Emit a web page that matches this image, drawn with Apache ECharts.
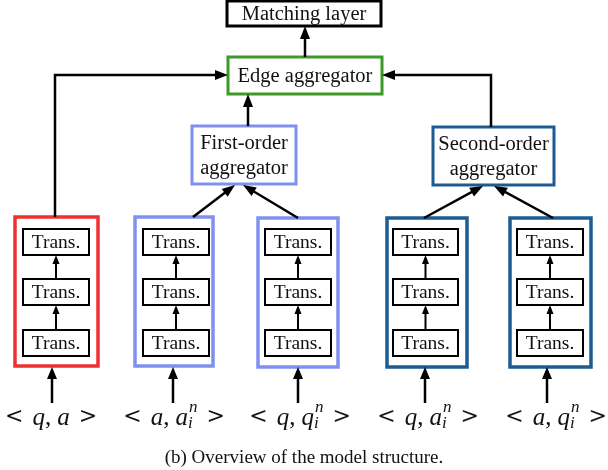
<!DOCTYPE html>
<html><head><meta charset="utf-8">
<script src="https://cdn.jsdelivr.net/npm/echarts@6/dist/echarts.min.js"></script>
<style>html,body{margin:0;padding:0;background:#fff}#c{width:608px;height:470px}</style>
</head><body><div id="c"></div>
<script>
// ---------- data ----------
const nodeNames = ['Matching layer', 'Edge aggregator', 'First-order\naggregator', 'Second-order\naggregator'];
const nodeBoxes = [[227, 1, 381, 26], [228, 57, 382, 94], [192, 126, 296, 184], [433, 127, 554, 185]];
const nodeKinds = ['black', 'green', 'light', 'dark'];

const colBoxes = [[15, 217, 98, 366], [135, 217, 213, 366], [258, 218, 338, 367], [387, 218, 467, 367], [510, 218, 591, 367]];
const colKinds = ['red', 'light', 'light', 'dark', 'dark'];
const transX = [[23, 89], [143, 209], [265, 331], [393, 458], [517, 583]];
const transRows = [[229, 255], [279, 305], [330, 356]];
const transName = 'Trans.';

const edgeArrows = [
  [[305, 57], [305, 26]],
  [[248, 126], [248, 94]],
  [[55, 217], [55, 75], [228, 75]],
  [[491, 127], [491, 75], [382, 75]],
  [[193, 217], [235, 185]],
  [[298, 218], [243, 185]],
  [[424, 218], [483, 186]],
  [[553, 218], [494, 186]]
];
const inputX = [52, 173, 298, 425, 547];
const inputY = [403, 367];

const labelX = [51, 174, 300, 428, 556];
const labelY = 418;
const labelFirst = ['q', 'a', 'q', 'q', 'a'];
const labelSecond = ['a', 'a', 'q', 'a', 'q'];
const labelSup = ['', 'n', 'n', 'n', 'n'];
const labelSub = ['', 'i', 'i', 'i', 'i'];

const caption = '(b) Overview of the model structure.';

// ---------- styles ----------
const colors = { black: '#000000', green: '#3a9a2a', light: '#8090ee', dark: '#1d5b93', red: '#ee3030' };
const serif = '"Liberation Serif", "Times New Roman", serif';

// derived: trans boxes and inner arrows
const transBoxes = [];
const innerArrows = [];
transX.forEach(function (tx) {
  transRows.forEach(function (r) { transBoxes.push([tx[0], r[0], tx[1], r[1]]); });
  const cx = (tx[0] + tx[1]) / 2;
  for (let k = 1; k < transRows.length; k++) {
    innerArrows.push([[cx, transRows[k][0]], [cx, transRows[k - 1][1]]]);
  }
});
const inputArrows = inputX.map(function (x) { return [[x, inputY[0]], [x, inputY[1]]]; });

function boxRender(texts, kinds, lw, fontSize, lineH) {
  return function (params, api) {
    const p0 = api.coord([api.value(0), api.value(1)]);
    const p1 = api.coord([api.value(2), api.value(3)]);
    const i = params.dataIndex;
    const col = colors[typeof kinds === 'string' ? kinds : kinds[i]];
    const children = [{
      type: 'rect',
      shape: { x: p0[0], y: p0[1], width: p1[0] - p0[0], height: p1[1] - p0[1] },
      style: { fill: '#fff', stroke: col, lineWidth: lw }
    }];
    const t = !texts ? '' : (typeof texts === 'string' ? texts : texts[i]);
    if (t) {
      children.push({
        type: 'text',
        style: {
          text: t, x: (p0[0] + p1[0]) / 2, y: (p0[1] + p1[1]) / 2 + 1,
          align: 'center', verticalAlign: 'middle',
          font: fontSize + 'px ' + serif, lineHeight: lineH, fill: '#111'
        }
      });
    }
    return { type: 'group', children: children };
  };
}

function arrowRender(list, L, Wd, lw) {
  return function (params, api) {
    const pts = list[params.dataIndex].map(function (p) { return api.coord(p); });
    const n = pts.length, tip = pts[n - 1], prev = pts[n - 2];
    const dx = tip[0] - prev[0], dy = tip[1] - prev[1];
    const len = Math.hypot(dx, dy), ux = dx / len, uy = dy / len;
    const base = [tip[0] - ux * L, tip[1] - uy * L];
    const line = pts.slice(0, n - 1).concat([[tip[0] - ux * L * 0.6, tip[1] - uy * L * 0.6]]);
    return {
      type: 'group',
      children: [
        { type: 'polyline', shape: { points: line }, style: { stroke: '#000', lineWidth: lw, fill: null } },
        { type: 'polygon', shape: { points: [tip, [base[0] - uy * Wd / 2, base[1] + ux * Wd / 2], [base[0] + uy * Wd / 2, base[1] - ux * Wd / 2]] }, style: { fill: '#000' } }
      ]
    };
  };
}

const mctx = document.createElement('canvas').getContext('2d');
function tw(t, font) { mctx.font = font; return mctx.measureText(t).width; }
const relFont = '22px "DejaVu Serif", serif';
const punctFont = '25px ' + serif;
const varFont = 'italic 25px ' + serif;
const idxFont = 'italic 17px ' + serif;

function labelRender(params, api) {
  const i = params.dataIndex;
  const c = api.coord([api.value(0), api.value(1)]);
  const pieces = [
    { t: '<', f: relFont }, { gap: 9 },
    { t: labelFirst[i], f: varFont }, { t: ',', f: punctFont }, { gap: 6 },
    { t: labelSecond[i], f: varFont }
  ];
  if (labelSup[i] || labelSub[i]) pieces.push({ sup: labelSup[i], sub: labelSub[i], f: idxFont });
  pieces.push({ gap: 9 }, { t: '>', f: relFont });
  let total = 0;
  pieces.forEach(function (p) {
    if (p.gap) p.w = p.gap;
    else if (p.t !== undefined) p.w = tw(p.t, p.f);
    else p.w = Math.max(tw(p.sup, p.f), tw(p.sub, p.f)) + 1;
    total += p.w;
  });
  let x = c[0] - total / 2;
  const children = [];
  pieces.forEach(function (p) {
    if (p.t !== undefined) {
      const dy = p.f === relFont ? -1 : 0;
      children.push({ type: 'text', style: { text: p.t, x: x, y: c[1] + dy, font: p.f, align: 'left', verticalAlign: 'middle', fill: '#111' } });
    } else if (p.sup !== undefined) {
      children.push({ type: 'text', style: { text: p.sup, x: x + 1, y: c[1] - 10, font: p.f, align: 'left', verticalAlign: 'middle', fill: '#111' } });
      children.push({ type: 'text', style: { text: p.sub, x: x, y: c[1] + 6, font: p.f, align: 'left', verticalAlign: 'middle', fill: '#111' } });
    }
    x += p.w;
  });
  return { type: 'group', children: children };
}

const chart = echarts.init(document.getElementById('c'), null, { renderer: 'canvas' });
chart.setOption({
  animation: false,
  backgroundColor: '#fff',
  title: {
    text: caption, left: 'center', top: 444,
    textStyle: { fontFamily: serif, fontSize: 19, fontWeight: 'normal', color: '#111' }
  },
  grid: { left: 0, right: 0, top: 0, bottom: 0 },
  xAxis: { type: 'value', min: 0, max: 608, show: false },
  yAxis: { type: 'value', min: 0, max: 470, inverse: true, show: false },
  series: [
    { type: 'custom', name: 'nodes', data: nodeBoxes, renderItem: boxRender(nodeNames, nodeKinds, 3, 20.5, 25), z: 2 },
    { type: 'custom', name: 'encoders', data: colBoxes, renderItem: boxRender(null, colKinds, 3.5, 19, 20), z: 2 },
    { type: 'custom', name: 'trans', data: transBoxes, renderItem: boxRender(transName, 'black', 2, 19.5, 20), z: 3 },
    { type: 'custom', name: 'edges', data: edgeArrows.map(function (a) { return a[a.length - 1]; }), renderItem: arrowRender(edgeArrows, 13, 10, 2.5), z: 4 },
    { type: 'custom', name: 'inputs', data: inputArrows.map(function (a) { return a[1]; }), renderItem: arrowRender(inputArrows, 12, 10, 2.5), z: 4 },
    { type: 'custom', name: 'inner', data: innerArrows.map(function (a) { return a[1]; }), renderItem: arrowRender(innerArrows, 9, 7, 2), z: 4 },
    { type: 'custom', name: 'labels', data: labelX.map(function (x) { return [x, labelY]; }), renderItem: labelRender, z: 4 }
  ]
});
</script></body></html>
